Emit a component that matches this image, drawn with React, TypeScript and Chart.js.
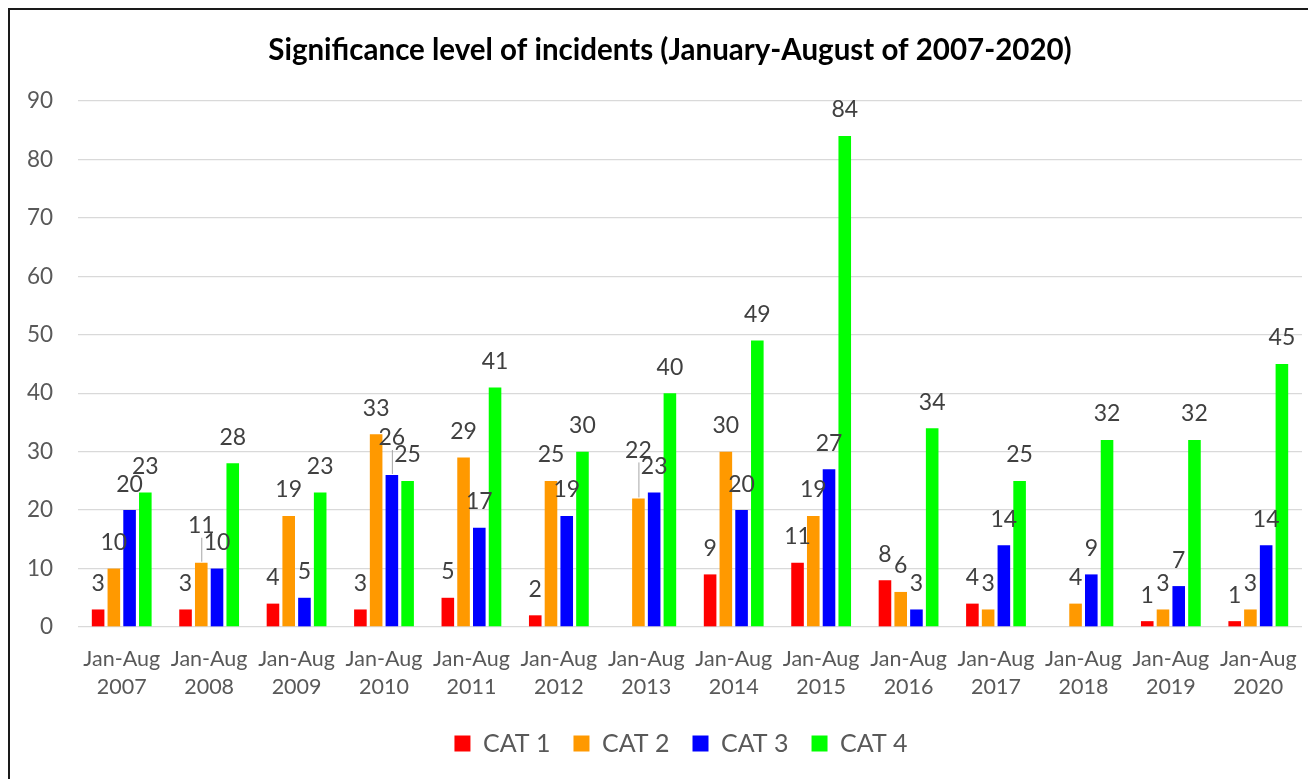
import React, { useEffect, useRef } from "react";
import { Chart, registerables } from "chart.js";

Chart.register(...registerables);

const periodLabel = "Jan-Aug";
const years = ["2007", "2008", "2009", "2010", "2011", "2012", "2013", "2014", "2015", "2016", "2017", "2018", "2019", "2020"];
const cat1 = [3, 3, 4, 3, 5, 2, null, 9, 11, 8, 4, null, 1, 1];
const cat2 = [10, 11, 19, 33, 29, 25, 22, 30, 19, 6, 3, 4, 3, 3];
const cat3 = [20, 10, 5, 26, 17, 19, 23, 20, 27, 3, 14, 9, 7, 14];
const cat4 = [23, 28, 23, 25, 41, 30, 40, 49, 84, 34, 25, 32, 32, 45];
const seriesNames = ["CAT 1", "CAT 2", "CAT 3", "CAT 4"];
const seriesColors = ["#FF0000", "#FF9900", "#0000FF", "#00FF00"];
const yMin = 0;
const yMax = 90;
const yStep = 10;
const titleText = "Significance level of incidents (January-August of 2007-2020)";

const FONT = "Lato";

const valueLabelPlugin = {
  id: "valueLabels",
  afterLayout(chart: any) {
    const lg = chart.legend;
    if (lg) {
      lg.left += 25;
      lg.right += 25;
    }
    const tb = chart.titleBlock;
    if (tb) {
      tb.left += 14;
      tb.right += 14;
    }
  },
  afterDatasetsDraw(chart: any) {
    const ctx = chart.ctx;
    ctx.save();
    ctx.font = `23px ${FONT}`;
    ctx.textAlign = "center";
    ctx.textBaseline = "middle";
    const n = chart.data.labels.length;
    const dsCount = chart.data.datasets.length;
    const h = 16;
    for (let i = 0; i < n; i++) {
      const placed: { x: number; y: number; w: number }[] = [];
      for (let d = dsCount - 1; d >= 0; d--) {
        const v = chart.data.datasets[d].data[i];
        if (v == null) continue;
        const el = chart.getDatasetMeta(d).data[i];
        const text = String(v);
        const w = ctx.measureText(text).width;
        const x = el.x;
        const y0 = el.y - 26;
        let cy = y0;
        let guard = 0;
        while (
          placed.some((b) => Math.abs(b.x - x) < (b.w + w) / 2 + 1 && Math.abs(b.y - cy) < h) &&
          guard < 300
        ) {
          cy -= 1;
          guard++;
        }
        placed.push({ x, y: cy, w });
        if (y0 - cy > 6) {
          ctx.strokeStyle = "#A6A6A6";
          ctx.lineWidth = 1;
          ctx.beginPath();
          ctx.moveTo(x + 0.5, cy + 12);
          ctx.lineTo(x + 0.5, el.y - 1);
          ctx.stroke();
        }
        ctx.fillStyle = "#404040";
        ctx.fillText(text, x, cy);
      }
    }
    ctx.restore();
  },
};

export default function App() {
  const canvasRef = useRef<HTMLCanvasElement | null>(null);

  useEffect(() => {
    if (!canvasRef.current) return;
    const datasets = [cat1, cat2, cat3, cat4].map((data, i) => ({
      label: seriesNames[i],
      data,
      backgroundColor: seriesColors[i],
      borderWidth: 0,
      categoryPercentage: 0.72,
      barPercentage: 0.8,
    }));
    const chart = new Chart(canvasRef.current, {
      type: "bar",
      data: {
        labels: years.map((y) => [periodLabel, y]),
        datasets,
      },
      options: {
        animation: false,
        responsive: true,
        maintainAspectRatio: false,
        events: [],
        layout: { padding: { left: 0, right: 14, top: 0, bottom: 13 } },
        plugins: {
          title: {
            display: true,
            text: titleText,
            color: "#000000",
            font: { family: FONT, size: 29.5, weight: "bold", lineHeight: 1.2 },
            padding: { top: 23, bottom: 32.6 },
          },
          legend: {
            display: true,
            position: "bottom",
            labels: {
              boxWidth: 16,
              boxHeight: 16,
              padding: 23,
              color: "#595959",
              font: { family: FONT, size: 25 },
            },
          },
          tooltip: { enabled: false },
        },
        scales: {
          x: {
            grid: { display: false, drawTicks: false },
            border: { display: false },
            ticks: {
              color: "#595959",
              font: { family: FONT, size: 21.5, lineHeight: 1.3 },
              padding: 18,
              maxRotation: 0,
              autoSkip: false,
            },
            afterFit(scale: any) {
              scale.height = 81;
            },
          },
          y: {
            min: yMin,
            max: yMax,
            grid: { color: "#D9D9D9", lineWidth: 1.3, drawTicks: false },
            border: { display: false },
            ticks: {
              stepSize: yStep,
              color: "#595959",
              font: { family: FONT, size: 22.5 },
              padding: 25,
            },
            afterFit(scale: any) {
              scale.width = 68;
            },
          },
        },
      },
      plugins: [valueLabelPlugin],
    });
    return () => chart.destroy();
  }, []);

  return (
    <div
      style={{
        borderTop: "2px solid #1a1a1a",
        borderLeft: "2px solid #1a1a1a",
        width: 1308,
        height: 771,
        boxSizing: "border-box",
        background: "#fff",
      }}
    >
      <div style={{ position: "relative", width: 1306, height: 769 }}>
        <canvas ref={canvasRef} />
      </div>
    </div>
  );
}
